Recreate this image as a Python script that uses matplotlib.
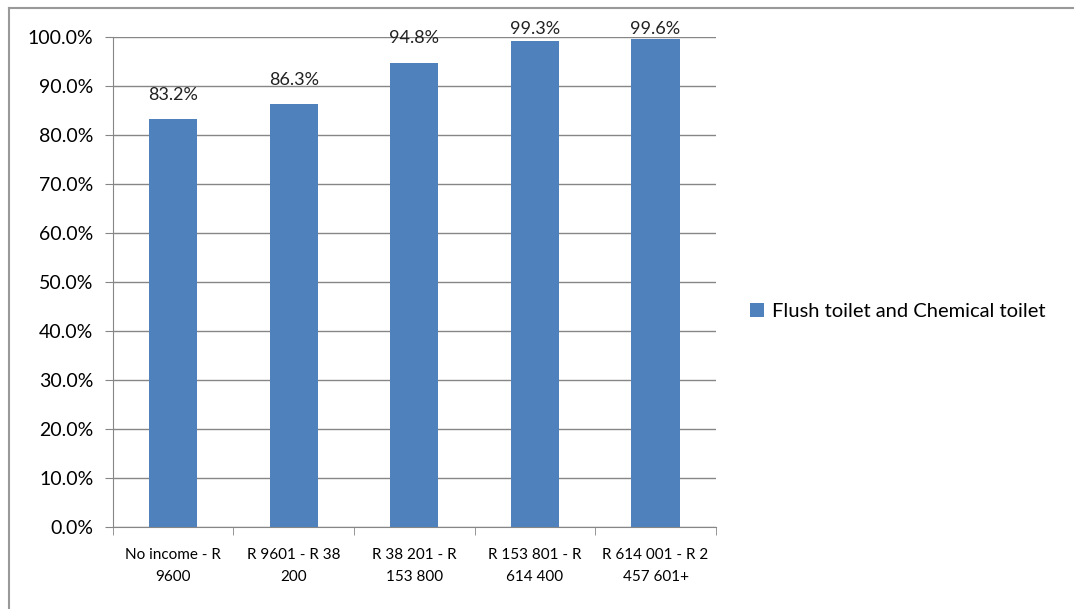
import matplotlib.pyplot as plt
import numpy as np
from matplotlib.lines import Line2D

categorias = ["No income - R\n9600", "R 9601 - R 38\n200", "R 38 201 - R\n153 800",
              "R 153 801 - R\n614 400", "R 614 001 - R 2\n457 601+"]
valores = [83.2, 86.3, 94.8, 99.3, 99.6]
serie = "Flush toilet and Chemical toilet"

plt.rcParams['font.family'] = ['Lato', 'DejaVu Sans']
azul = "#4f81bd"
gris = "#868686"

fig = plt.figure(figsize=(10.74, 6.09), dpi=100)
ax = fig.add_axes([0.105, 0.135, 0.5615, 0.804])

x = np.arange(len(categorias))
barras = ax.bar(x, valores, width=0.4, color=azul, label=serie, zorder=3)
# etiquetas encima de la barra, sin salirse del borde superior
for xi, v in zip(x, valores):
    ax.text(xi, min(v + 4.0, 100.6), f"{v:.1f}%", ha="center", va="baseline",
            fontsize=13, color="#222222", zorder=4)

ax.set_xlim(-0.5, len(categorias) - 0.5)
ax.set_ylim(0, 100)
ax.set_yticks(np.arange(0, 101, 10))
ax.set_yticklabels([f"{t:.1f}%" for t in np.arange(0, 101, 10)], fontsize=14)
ax.set_xticks(x)
ax.set_xticklabels(categorias, fontsize=11, linespacing=1.75)
ax.tick_params(axis="x", length=0, pad=15)
ax.set_xticks(np.arange(-0.5, len(categorias), 1), minor=True)
ax.tick_params(axis="x", which="minor", length=6, color=gris)
ax.tick_params(axis="y", length=6, color=gris, pad=8)
ax.yaxis.grid(True, color=gris, linewidth=1, zorder=0)
for s in ["top", "right"]:
    ax.spines[s].set_visible(False)
ax.spines["left"].set_color(gris)
ax.spines["bottom"].set_color(gris)

fig.legend(handles=[barras], labels=[serie], loc="center left", bbox_to_anchor=(0.698, 0.489),
           frameon=False, fontsize=14.5, handlelength=0.7, handleheight=0.7, handletextpad=0.4,
           borderaxespad=0, borderpad=0)

fig.add_artist(Line2D([0.008, 1.0], [0.987, 0.987], color="#999999", linewidth=1.5, transform=fig.transFigure))
fig.add_artist(Line2D([0.008, 0.008], [0.0, 0.987], color="#999999", linewidth=1.5, transform=fig.transFigure))

fig.savefig("out.png", dpi=100)
